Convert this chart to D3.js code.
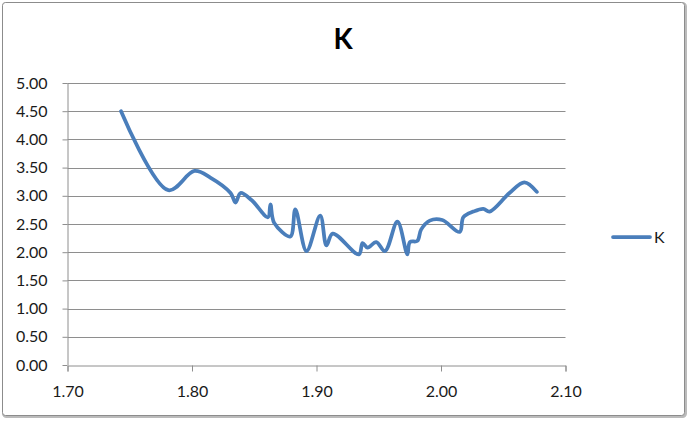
<!DOCTYPE html>
<html><head><meta charset="utf-8">
<script src="https://cdn.jsdelivr.net/npm/d3@7"></script>
<style>body{margin:0;background:#fff}svg{display:block}text{font-family:Lato,"Open Sans",sans-serif}</style>
</head><body><svg id="c" width="690" height="421"></svg>
<script>
const title = "K";
const seriesName = "K";
const xValues = [1.743,1.781,1.802,1.815,1.831,1.835,1.839,1.848,1.861,1.863,1.866,1.879,1.883,1.892,1.903,1.908,1.913,1.934,1.937,1.941,1.948,1.955,1.965,1.973,1.975,1.981,1.984,1.991,2.001,2.015,2.018,2.026,2.034,2.039,2.055,2.067,2.077];
const yValues = [4.50,3.10,3.44,3.32,3.05,2.88,3.05,2.92,2.62,2.85,2.52,2.28,2.76,2.02,2.65,2.12,2.33,1.96,2.16,2.08,2.18,2.02,2.54,1.96,2.18,2.20,2.40,2.56,2.57,2.36,2.62,2.72,2.77,2.72,3.05,3.24,3.07];
const xTicks = [1.70,1.80,1.90,2.00,2.10];
const yTicks = [0,0.5,1,1.5,2,2.5,3,3.5,4,4.5,5];

const svg = d3.select("#c");
// chart border
svg.append("rect").attr("x",3.5).attr("y",3.5).attr("width",682).attr("height",413)
  .attr("rx",3).attr("fill","none").attr("stroke","#bbb").attr("stroke-width",3);
svg.append("rect").attr("x",2.5).attr("y",2.5).attr("width",682).attr("height",413)
  .attr("rx",3).attr("fill","#fff").attr("stroke","#8c8c8c").attr("stroke-width",1);

const L=67.5, R=565.5, T=83, B=365;
const x = d3.scaleLinear().domain([1.70,2.10]).range([L,R]);
const y = d3.scaleLinear().domain([0,5]).range([B,T]);

// gridlines
svg.append("g").selectAll("line").data(yTicks.filter(d=>d>0)).join("line")
  .attr("x1",L).attr("x2",R).attr("y1",d=>Math.round(y(d))+0.5).attr("y2",d=>Math.round(y(d))+0.5)
  .attr("stroke","#8e8e8e").attr("stroke-width",1);

// y axis
const gy = svg.append("g").attr("transform",`translate(${L},0)`)
  .call(d3.axisLeft(y).tickValues(yTicks).tickFormat(d3.format(".2f")).tickSize(5).tickPadding(15));
// x axis
const gx = svg.append("g").attr("transform",`translate(0,${B+0.5})`)
  .call(d3.axisBottom(x).tickValues(xTicks).tickFormat(d3.format(".2f")).tickSize(6).tickPadding(14));
[gx,gy].forEach(g=>{
  g.selectAll("path,line").attr("stroke","#8e8e8e");
  g.select(".domain").attr("stroke","#8e8e8e");
  g.selectAll("text").attr("font-size",16).attr("fill","#1a1a1a").attr("font-family","Lato,sans-serif");
});
gy.select(".domain").attr("d",`M0.5,${T}V${B}`);

// line
const pts = xValues.map((v,i)=>[v,yValues[i]]);
svg.append("path").datum(pts)
  .attr("d",d3.line().x(d=>x(d[0])).y(d=>y(d[1])).curve(d3.curveCatmullRom.alpha(0.5)))
  .attr("fill","none").attr("stroke","#4a7ebb").attr("stroke-width",3.75)
  .attr("stroke-linejoin","round").attr("stroke-linecap","round");

// title
svg.append("text").attr("x",343).attr("y",49).attr("text-anchor","middle")
  .attr("font-size",28).attr("font-weight","bold").attr("fill","#000").text(title);

// legend
svg.append("line").attr("x1",613).attr("x2",650).attr("y1",237).attr("y2",237)
  .attr("stroke","#4a7ebb").attr("stroke-width",3.75).attr("stroke-linecap","round");
svg.append("text").attr("x",654).attr("y",243).attr("font-size",16).attr("fill","#1a1a1a").text(seriesName);
</script></body></html>
